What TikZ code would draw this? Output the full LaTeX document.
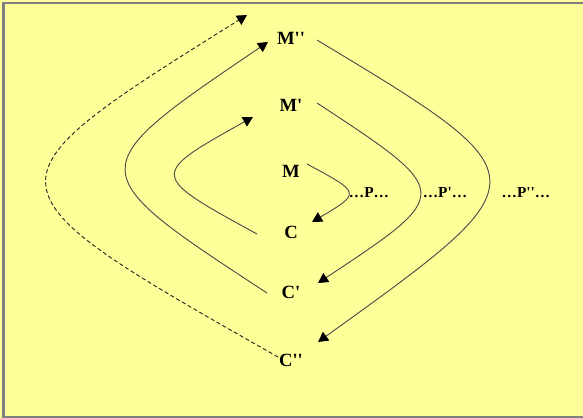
\documentclass[tikz,border=0pt]{standalone}
\usepackage{fontspec}
\setmainfont{Liberation Serif}
\usepackage{tikz}
\usetikzlibrary{arrows.meta, calc}
\definecolor{sheet}{RGB}{255,255,153}
\definecolor{frame}{RGB}{128,128,128}

\begin{document}
\begin{tikzpicture}[
    x=0.75pt, y=-0.75pt,
    stage/.style={font=\fontsize{14}{16}\selectfont\bfseries, inner sep=1pt, anchor=base},
    phase/.style={font=\fontsize{11.5}{14}\selectfont\bfseries, inner sep=1pt, anchor=base},
    circuit/.style={draw=black!70, line width=0.7pt, -{Triangle[width=8pt,length=7.5pt,color=black]}},
    back/.style={circuit, draw=black!85, dash pattern=on 3pt off 2pt}
]

\useasboundingbox (0,0) rectangle (583,418);
\fill[sheet] (0,0) rectangle (583,418);
\draw[frame, line width=1.5pt] (583,2.5) -- (3.5,2.5) -- (3.5,416.5) -- (583,416.5);

% money and commodity stages
\node (mpp) [stage] at (291,44) {M\textquotesingle\textquotesingle};
\node (mp) [stage] at (291,111) {M\textquotesingle};
\node (m) [stage] at (291,177) {M};
\node (c) [stage] at (291,238) {C};
\node (cp) [stage] at (291,298) {C\textquotesingle};
\node (cpp) [stage] at (291,366) {C\textquotesingle\textquotesingle};

% production phases
\node (p) [phase] at (369,197) {\ldots P\ldots};
\node (pp) [phase] at (445,197) {\ldots P\textquotesingle\ldots};
\node (ppp) [phase] at (526,197) {\ldots P\textquotesingle\textquotesingle\ldots};

\coordinate (next) at (247,15);

\draw [circuit] ($(m.base)+(16,-13)$) .. controls (361,193) .. ($(c.base)+(21,-16)$);
\draw [circuit] ($(mp.base)+(26,-8)$) .. controls (454,193) .. ($(cp.base)+(27,-15)$);
\draw [circuit] ($(mpp.base)+(26,-4)$) .. controls (546,178) .. ($(cpp.base)+(27,-24)$);

\draw [circuit] ($(c.base)+(-34,-4)$) .. controls (149,175) .. ($(mp.base)+(-38,6)$);
\draw [circuit] ($(cp.base)+(-24,-5)$) .. controls (79,170) .. ($(mpp.base)+(-23,-2)$);
\draw [back] ($(cpp.base)+(-13,-9)$) .. controls (-25,185) .. (next);

\end{tikzpicture}
\end{document}
